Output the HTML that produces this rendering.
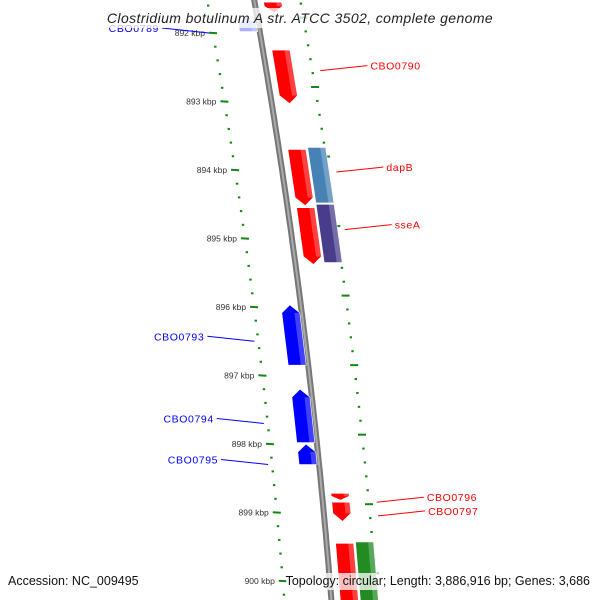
<!DOCTYPE html>
<html><head><meta charset="utf-8"><style>
body{margin:0;background:#fff}
svg{display:block;font-family:"Liberation Sans","DejaVu Sans",sans-serif}
</style></head><body>
<svg id="c" width="600" height="600" viewBox="0 0 600 600"></svg>
<script>
const majorKbp=[892,893,894,895,896,897,898,899,900];
const geneNames=["CBO0788","CBO0789","CBO0790","dapB-left","dapB","sseA-left","sseA","CBO0793","CBO0794","CBO0795","CBO0796","CBO0797","CBO0798","CBO0799"];
const geneStart=[891.55,891.75,892.25,893.7,893.67,894.55,894.5,895.97,897.2,898.0,898.72,898.85,899.45,899.43];
const geneEnd=[891.7,891.98,893.03,894.52,894.48,895.38,895.35,896.85,897.98,898.3,898.82,899.13,900.3,900.3];
const geneLane=[1,-1,1,1,2,1,2,-1,-1,-1,1,1,1,2];
const geneDir=[-1,1,-1,-1,0,-1,0,1,1,1,-1,-1,0,0];
const geneColor=["#ff0000","#aab0ff","#ff0000","#ff0000","#4682b4","#ff0000","#483d8b","#0000ff","#0000ff","#0000ff","#ff0000","#ff0000","#ff0000","#228b22"];
const labelText=["CBO0789","CBO0790","dapB","sseA","CBO0793","CBO0794","CBO0795","CBO0796","CBO0797"];
const labelKbp=[892.0,892.55,894.03,894.87,896.5,897.7,898.3,898.85,899.05];
const labelSide=[-1,1,1,1,-1,-1,-1,1,1];
const labelColor=["#0000ff","#ff0000","#ff0000","#ff0000","#0000ff","#0000ff","#0000ff","#ff0000","#ff0000"];

const NS="http://www.w3.org/2000/svg";
const svg=document.getElementById('c');
function yOf(k){return 33+(k-892)*68.5;}
function innerX(y){return 207.2+0.1778*y-0.000082*y*y;}
function bbX(y){return innerX(y)+47;}
function mk(tag,attrs,parent){const e=document.createElementNS(NS,tag);for(const a in attrs)e.setAttribute(a,attrs[a]);(parent||svg).appendChild(e);return e;}

// backbone
let pts=[];for(let y=-5;y<=605;y+=5)pts.push(bbX(y).toFixed(1)+','+y);
const bb=mk('polyline',{points:pts.join(' '),fill:'none',stroke:'#777','stroke-width':6});


const bb2=mk('polyline',{points:pts.join(' '),fill:'none',stroke:'#aaa','stroke-width':2});



// ticks
const tg=mk('g',{});


for(let k=891.6;k<=900.3;k+=0.2){
  const kk=Math.round(k*10)/10;const y=yOf(kk);const major=Math.abs(kk-Math.round(kk))<0.01;
  const x=innerX(y);
  const t=mk('line',{x1:x-(major?4:1.2),y1:y-0.3*(major?1:0),x2:x+(major?4:1.2),y2:y+0.3*(major?1:0),stroke:'#118811','stroke-width':2},tg);
  
  
  const yo=y-16+(y/600)*9;const xo=innerX(yo)+93;
  const t2=mk('line',{x1:xo-(major?4:1.2),y1:yo,x2:xo+(major?4:1.2),y2:yo,stroke:'#118811','stroke-width':2},tg);
  
  
}
majorKbp.forEach(k=>{
  const y=yOf(k);
  const t=mk('text',{x:innerX(y)-8,y:y+3,'font-size':8.5,'text-anchor':'end',fill:'#333'},tg);
  t.textContent=k+' kbp';
  
  
});

// genes
const gg=mk('g',{});


function lane(l){return l===1?[9,27]:l===2?[29,47]:[-20,-2];}
geneNames.forEach((n,i)=>{
  const y1=yOf(geneStart[i]),y2=yOf(geneEnd[i]);const [a,b]=lane(geneLane[i]);
  const tip=Math.min(8,(y2-y1)*0.6);const d=geneDir[i];
  let p=[];
  const P=(o,y)=>p.push((bbX(y)+o).toFixed(1)+','+y.toFixed(1));
  if(d===1){P(a,y2);P(a,y1+tip);P((a+b)/2,y1);P(b,y1+tip);P(b,y2);}
  else if(d===-1){P(a,y1);P(b,y1);P(b,y2-tip);P((a+b)/2,y2);P(a,y2-tip);}
  else{P(a,y1);P(b,y1);P(b,y2);P(a,y2);}
  const g=mk('polygon',{points:p.join(' '),fill:geneColor[i],stroke:'#fff','stroke-width':0.6},gg);
  
  
  const hx=(b-a)*0.3;let q=[];
  const Q=(o,y)=>q.push((bbX(y)+o).toFixed(1)+','+y.toFixed(1));
  Q(b-hx,y1+(d===1?tip:0));Q(b,y1+(d===1?tip:0));Q(b,y2-(d===-1?tip:0));Q(b-hx,y2-(d===-1?tip:0));
  const h=mk('polygon',{points:q.join(' '),fill:'#fff',opacity:0.25},gg);
  
  
});

// labels
const lg=mk('g',{});


labelText.forEach((t,i)=>{
  const y=yOf(labelKbp[i]);const s=labelSide[i];
  const x0=s>0?innerX(y)+101:innerX(y)-4;const x1=x0+s*47;const y1=y-5;
  const l=mk('line',{x1:x0,y1:y,x2:x1,y2:y1,stroke:labelColor[i],'stroke-width':1},lg);
  
  
  const tx=mk('text',{x:x1+s*3,y:y1+4,'font-size':10.5,'letter-spacing':0.6,'text-anchor':s>0?'start':'end',fill:labelColor[i]},lg);
  tx.textContent=t;
  
  
});
</script>
<div style="position:absolute;left:0;top:0;width:600px;height:600px;pointer-events:none;font-family:'Liberation Sans','DejaVu Sans',sans-serif">
 <div style="position:absolute;left:86px;top:8px;width:428px;height:20px;background:rgba(255,255,255,0.75);font-style:italic;font-size:14px;letter-spacing:0.4px;text-align:center;line-height:20px;color:#222">Clostridium botulinum A str. ATCC 3502, complete genome</div>
 <div style="position:absolute;left:8px;top:573px;font-size:12.5px;color:#111;background:rgba(255,255,255,0.75);line-height:17px">Accession: NC_009495</div>
 <div style="position:absolute;right:10px;top:573px;font-size:12.5px;color:#111;background:rgba(255,255,255,0.75);line-height:17px">Topology: circular; Length: 3,886,916 bp; Genes: 3,686</div>
</div>
</body></html>
